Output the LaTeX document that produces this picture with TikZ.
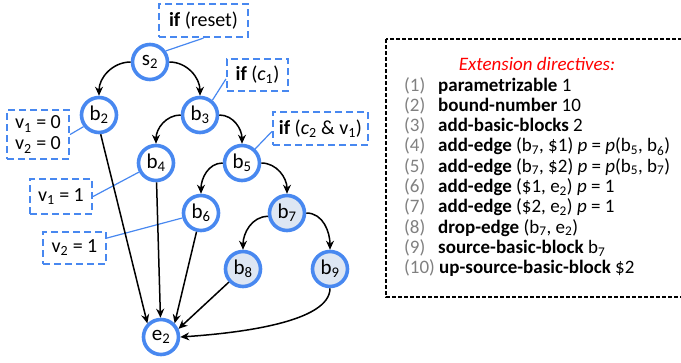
\documentclass[tikz,border=0pt]{standalone}
\usepackage{fontspec}
\setmainfont{Carlito}
\usetikzlibrary{arrows.meta,calc}
\definecolor{nodeblue}{RGB}{72,136,240}
\definecolor{nodefill}{RGB}{221,230,243}
\definecolor{numgray}{RGB}{128,128,128}
\tikzset{
  bb/.style={circle,draw=nodeblue,line width=3.6pt,minimum size=35pt,inner sep=0pt,font=\fontsize{21}{23}\selectfont},
  bbf/.style={bb,fill=nodefill},
  cond/.style={draw=nodeblue,line width=2.2pt,dash pattern=on 7pt off 4pt,inner sep=0pt,align=center,font=\fontsize{20}{22}\selectfont},
  link/.style={draw=nodeblue,line width=1.2pt},
  flow/.style={draw=black,line width=1.5pt,-{Stealth[length=9pt,width=8pt]}},
  num/.style={anchor=base west,inner sep=0pt,text=numgray,font=\fontsize{19}{20}\selectfont},
  item/.style={anchor=base west,inner sep=0pt,font=\fontsize{19}{20}\selectfont},
}
\begin{document}
\begin{tikzpicture}[x=1pt,y=1pt]
\useasboundingbox (0,0) rectangle (681,-362);
% nodes
\node[bb] (s2) at (150,-62) {s\textsubscript{2}};
\node[bb] (b2) at (99,-115) {b\textsubscript{2}};
\node[bb] (b3) at (200,-115) {b\textsubscript{3}};
\node[bb] (b4) at (156,-163) {b\textsubscript{4}};
\node[bb] (b5) at (242,-163) {b\textsubscript{5}};
\node[bb] (b6) at (201,-213) {b\textsubscript{6}};
\node[bbf] (b7) at (287,-213) {b\textsubscript{7}};
\node[bbf] (b8) at (243,-269) {b\textsubscript{8}};
\node[bbf] (b9) at (330,-269) {b\textsubscript{9}};
\node[bb] (e2) at (161,-337) {e\textsubscript{2}};
% condition boxes
\node[cond,minimum width=89pt,minimum height=33pt] (reset) at (203.5,-20.5) {\textbf{if} (reset)};
\node[cond,minimum width=61pt,minimum height=32pt] (c1) at (257.5,-75) {\textbf{if} (\textit{c}\textsubscript{1})};
\node[cond,minimum width=95pt,minimum height=33pt] (c2) at (320.5,-128.5) {\textbf{if} (\textit{c}\textsubscript{2} \& v\textsubscript{1})};
\node[cond,minimum width=62pt,minimum height=49pt] (v0) at (38,-134.5) {v\textsubscript{1} = 0\\[-1pt]v\textsubscript{2} = 0};
\node[cond,minimum width=62pt,minimum height=35pt] (v11) at (61,-196.5) {v\textsubscript{1} = 1};
\node[cond,minimum width=63pt,minimum height=32pt] (v21) at (74.5,-248) {v\textsubscript{2} = 1};
% links
\draw[link] (reset.south) -- (s2.35);
\draw[link] ([yshift=-4pt]c1.west) -- (b3.50);
\draw[link] ([yshift=-3pt]c2.west) -- (b5.47);
\draw[link] (v0.east) -- (b2.217);
\draw[link] (v11.east) -- (b4);
\draw[link] ([yshift=10pt]v21.east) -- (b6);
% flow arrows
\draw[flow] (s2.west) to[out=180,in=90] (b2.north);
\draw[flow] (s2.east) to[out=0,in=90] (b3.north);
\draw[flow] (b3.west) to[out=180,in=90] (b4.north);
\draw[flow] (b3.east) to[out=0,in=90] (b5.north);
\draw[flow] (b5.west) to[out=180,in=90] (b6.north);
\draw[flow] (b5.east) to[out=0,in=90] (b7.north);
\draw[flow] (b7.190) to[out=180,in=90] (b8.north);
\draw[flow] (b7.east) to[out=0,in=90] (b9.north);
\draw[flow] (b2.275) -- (e2.135);
\draw[flow] (b4) -- (e2);
\draw[flow] (b6) -- (e2.45);
\draw[flow] (b8) -- (e2.25);
\draw[flow] (b9.south) .. controls (330,-322) and (240,-333) .. (e2.east);
% directives box
\draw[line width=1.3pt,dash pattern=on 4pt off 2pt] (386,-39) rectangle (690,-297);
\node[anchor=base,inner sep=0pt,text=red,font=\fontsize{19}{20}\itshape] (title) at (537,-70) {Extension directives:};
\foreach \i/\t in {1/{\textbf{parametrizable} 1},
  2/{\textbf{bound-number} 10},
  3/{\textbf{add-basic-blocks} 2},
  4/{\textbf{add-edge} (b\textsubscript{7}, \$1) \textit{p} = \textit{p}(b\textsubscript{5}, b\textsubscript{6})},
  5/{\textbf{add-edge} (b\textsubscript{7}, \$2) \textit{p} = \textit{p}(b\textsubscript{5}, b\textsubscript{7})},
  6/{\textbf{add-edge} (\$1, e\textsubscript{2}) \textit{p} = 1},
  7/{\textbf{add-edge} (\$2, e\textsubscript{2}) \textit{p} = 1},
  8/{\textbf{drop-edge} (b\textsubscript{7}, e\textsubscript{2})},
  9/{\textbf{source-basic-block} b\textsubscript{7}}}{
  \node[num] (n\i) at (404,{-91-20.33*(\i-1)}) {(\i)};
  \node[item] (t\i) at (438,{-91-20.33*(\i-1)}) {\t};
}
\node[num] (n10) at (404,{-91-20.33*9}) {(10)};
\node[item] (t10) at (439,{-91-20.33*9}) {\textbf{up-source-basic-block} \$2};
\end{tikzpicture}
\end{document}
